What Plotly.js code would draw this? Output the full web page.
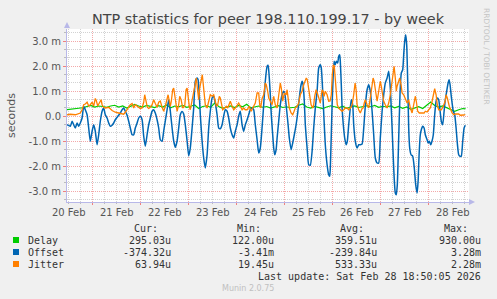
<!DOCTYPE html>
<html>
<head>
<meta charset="utf-8">
<script src="https://cdn.plot.ly/plotly-3.0.1.min.js"></script>
<style>
html,body{margin:0;padding:0;background:#f0f0f0;}
#chart{width:497px;height:299px;}
</style>
</head>
<body>
<div id="chart"></div>
<script>
// ---- DATA (times in hours since 2026-02-20 00:00, values in milliseconds) ----
const delayHours = [11,13,15,17,19,21,23,25,27,29,31,33,35,37,39,41,43,45,47,49,51,53,55,57,59,61,63,65,67,69,71,73,75,77,79,81,83,85,87,89,91,93,95,97,99,101,103,105,107,109,111,113,115,117,119,121,123,125,127,129,131,133,135,137,139,141,143,145,147,149,151,153,155,157,159,161,163,165,167,169,171,173,175,177,179,181,183,185,187,189,191,193,195,197,199,201,203,205,207,209,210.5];
const delayMs = [0.25,0.26,0.30,0.31,0.33,0.38,0.42,0.36,0.40,0.38,0.35,0.40,0.43,0.36,0.40,0.32,0.38,0.46,0.40,0.36,0.42,0.38,0.34,0.41,0.36,0.44,0.33,0.40,0.37,0.42,0.35,0.39,0.44,0.30,0.38,0.41,0.35,0.52,0.38,0.31,0.36,0.40,0.34,0.42,0.37,0.47,0.33,0.36,0.40,0.35,0.38,0.32,0.36,0.41,0.34,0.37,0.33,0.35,0.43,0.48,0.36,0.32,0.38,0.35,0.30,0.36,0.41,0.37,0.33,0.39,0.31,0.36,0.40,0.34,0.38,0.41,0.37,0.42,0.35,0.39,0.36,0.40,0.33,0.38,0.31,0.36,0.27,0.33,0.37,0.30,0.45,0.56,0.42,0.36,0.40,0.33,0.28,0.19,0.25,0.30,0.29];

const offsetHours = [11.2,12.8,13.7,14.5,15.3,16.2,17.0,17.8,18.7,19.5,20.3,21.2,22.0,22.8,23.7,24.5,25.3,26.2,27.0,27.8,28.7,29.5,30.3,31.2,32.0,32.8,33.7,34.5,35.3,36.2,37.0,37.8,38.7,39.5,40.3,41.2,42.0,42.8,43.7,44.5,45.3,46.2,47.0,47.8,48.7,49.5,50.3,51.2,52.0,52.8,53.7,54.5,55.3,56.2,57.0,57.8,58.7,59.5,60.3,61.2,62.0,62.8,63.7,64.5,65.3,66.2,67.0,67.8,68.7,69.5,70.3,71.2,72.0,72.8,73.7,74.5,75.3,76.2,76.7,77.3,77.8,78.7,79.5,80.3,81.2,82.0,82.8,83.7,84.5,85.3,86.2,87.0,87.8,88.7,89.5,90.3,91.2,92.0,92.8,93.7,94.5,95.3,96.2,97.0,97.8,98.7,99.5,100.3,101.2,102.0,102.8,103.7,104.5,105.3,106.2,107.0,107.8,108.7,109.5,110.3,111.2,111.7,112.3,112.8,113.3,114.0,114.5,115.0,115.7,116.2,117.0,117.8,118.7,119.5,120.0,120.7,121.7,122.3,123.2,124.0,124.8,125.7,126.5,127.3,128.2,128.7,129.2,129.8,130.3,131.2,132.0,132.8,133.7,134.5,135.3,136.2,137.0,137.8,138.3,139.0,139.7,140.3,141.2,142.0,142.5,142.8,143.3,143.7,144.2,144.7,145.3,145.8,146.5,147.0,147.5,147.8,148.3,148.7,149.3,150.0,150.7,151.3,152.0,152.8,153.3,154.0,154.5,155.3,156.2,157.0,157.8,158.7,159.5,160.3,161.2,162.0,162.8,163.7,164.5,165.3,166.2,167.0,167.8,168.7,169.5,170.3,171.2,172.0,172.8,173.7,174.5,175.3,175.8,176.3,177.0,177.7,178.3,179.0,179.5,180.0,180.5,181.0,181.5,182.0,182.5,183.2,184.0,184.8,185.5,186.2,186.7,187.2,187.8,188.3,189.0,189.7,190.3,191.2,191.7,192.3,193.0,193.7,194.3,195.0,195.7,196.3,197.0,197.7,198.3,199.0,199.7,200.3,201.0,201.7,202.2,202.7,203.2,203.7,204.3,205.0,205.7,206.3,207.0,207.7,208.3,209.0,209.7,210.3];
const offsetMs = [-0.35,-0.41,-0.21,-0.35,-0.48,-0.28,-0.41,-0.28,-0.08,0.39,0.25,0.05,-0.48,-1.01,-0.61,-0.35,-0.61,-1.15,-0.75,-0.21,0.19,0.32,0.05,-0.08,-0.28,-0.41,-0.37,-0.28,-0.15,-0.05,0.03,0.12,0.25,0.32,0.19,0.03,-0.21,-0.48,-0.75,-0.75,-0.48,-0.28,-0.08,-0.01,-0.15,-0.81,-1.21,-0.75,-0.35,-0.08,0.19,0.25,0.12,-0.15,-0.48,-0.95,-1.01,-0.6,-0.2,0.25,0.65,0.2,-0.48,-1.0,-1.25,-1.0,-0.48,0.05,0.18,0.08,-0.35,-1.0,-1.6,-1.28,-0.48,0.32,1.39,1.52,1.45,0.85,0.05,-1.0,-1.68,-2.08,-1.55,-0.48,0.19,0.72,0.79,0.52,0.05,-0.48,-0.51,-0.35,0.0,0.25,0.19,-0.08,-0.48,-0.75,-0.88,-0.61,-0.35,0.0,0.19,-0.35,-0.61,-0.35,-0.15,0.05,0.25,0.32,0.25,-0.35,-0.95,-1.48,-1.28,-0.45,0.45,1.39,1.99,2.03,1.52,0.85,0.05,-0.75,-1.28,-1.55,-1.35,-0.88,-0.21,0.45,0.85,0.99,0.92,0.45,-0.35,-0.88,-1.35,-1.08,-0.75,-0.35,0.12,0.72,1.25,1.39,1.25,0.59,-0.35,-1.28,-1.95,-1.97,-1.41,-0.48,0.32,0.99,1.92,2.05,1.92,0.99,-0.21,-1.15,-1.95,-2.35,-2.41,-2.08,-0.75,0.45,1.52,2.19,2.05,2.19,2.12,2.39,2.45,2.19,1.25,0.32,-0.35,-0.88,-1.15,-1.01,-0.35,0.32,0.65,0.45,-0.35,-1.01,-1.28,-1.15,-1.15,-1.12,-0.5,0.4,1.05,1.25,0.99,0.19,-0.75,-1.68,-1.88,-1.88,-0.88,0.19,0.85,1.32,1.52,1.79,1.12,-0.48,-2.08,-3.08,-3.15,-2.75,-0.88,0.99,1.72,1.85,2.45,2.99,3.25,2.85,1.39,-0.48,-1.28,-1.55,-1.61,-2.08,-2.75,-3.08,-2.61,-1.55,-0.75,-0.55,-0.41,-0.48,-0.75,-0.95,-1.08,-1.01,-1.15,-0.99,-0.75,0.05,0.59,0.72,0.65,0.19,-0.21,-0.35,0.19,0.65,0.99,1.32,1.45,1.25,0.85,0.52,0.19,0.05,-0.48,-1.08,-1.55,-1.61,-1.61,-1.01,-0.48,-0.37];

const jitterHours = [11.2,12.8,15.3,17.0,17.8,18.7,19.5,20.3,21.2,22.0,22.8,23.7,24.5,25.3,25.8,26.5,27.3,28.2,28.7,29.5,30.3,32.0,33.7,35.3,37.0,38.7,39.5,40.3,41.2,42.0,42.8,43.7,44.5,45.3,46.2,47.0,47.8,48.7,49.5,50.0,50.7,51.3,52.0,52.8,53.7,54.5,55.3,56.2,57.0,57.8,58.7,59.5,60.3,61.2,61.7,62.3,62.8,63.3,64.0,64.5,65.0,65.7,66.2,67.0,67.5,68.2,69.0,70.0,70.7,71.2,71.7,72.3,72.8,73.7,74.5,75.3,75.8,76.5,77.0,77.5,78.2,78.8,79.3,79.8,80.3,81.2,82.0,82.8,83.7,84.5,85.3,85.8,86.5,87.3,87.8,88.3,89.0,90.0,90.8,91.5,92.3,92.8,93.7,94.5,95.3,96.2,97.0,97.8,98.7,99.5,100.3,101.2,101.7,102.3,102.8,103.3,104.0,104.7,105.3,106.2,107.0,107.5,108.0,108.7,109.5,110.3,110.8,111.5,112.0,112.8,113.7,114.5,115.3,116.2,117.0,117.8,118.3,119.0,119.8,120.7,121.2,121.7,122.3,123.2,124.0,124.7,125.3,126.2,127.0,127.8,128.7,129.5,130.3,130.8,131.3,132.0,132.5,133.2,134.0,134.5,135.0,135.7,136.3,137.0,137.8,138.7,139.2,139.7,140.3,141.2,142.0,142.7,143.3,143.8,144.3,144.8,145.3,145.8,146.3,147.0,147.8,148.7,149.5,150.3,151.2,152.0,152.8,153.7,154.5,155.2,155.7,156.2,157.0,157.8,158.7,159.2,159.8,160.3,161.2,162.0,162.8,163.7,164.2,164.7,165.3,166.2,167.0,167.8,168.3,169.0,169.5,170.3,171.2,172.0,172.8,173.7,174.2,174.7,175.3,175.8,176.2,177.0,177.5,178.2,178.7,179.5,180.3,181.2,182.0,182.8,183.7,184.5,185.3,185.8,186.5,187.3,188.3,189.7,190.3,191.2,192.0,192.8,193.7,194.5,195.0,195.7,196.3,197.0,198.3,199.3,200.2,200.7,201.3,202.3,203.0,203.7,204.5,205.3,207.0,207.8,209.5,210.3];
const jitterMs = [0.05,0.07,0.05,0.08,0.12,0.25,0.45,0.48,0.55,0.4,0.45,0.55,0.4,0.7,0.62,0.4,0.55,0.65,0.45,0.35,0.32,0.35,0.22,0.15,0.12,0.08,0.07,0.15,0.25,0.38,0.45,0.5,0.32,0.45,0.4,0.35,0.3,0.32,0.55,0.85,0.6,0.35,0.3,0.35,0.45,0.65,0.5,0.35,0.55,0.6,0.35,0.19,0.39,0.72,0.85,0.59,0.39,0.59,1.05,1.12,0.85,0.32,0.19,0.45,0.79,0.65,0.32,0.39,1.05,1.12,0.72,0.39,0.25,0.65,0.99,1.45,1.52,0.99,0.65,1.12,1.52,1.65,1.25,0.85,0.45,0.32,0.65,0.85,0.79,0.85,0.59,0.39,0.45,0.79,0.72,0.45,0.25,0.32,0.39,0.32,0.52,0.59,0.39,0.25,0.32,0.45,0.52,0.39,0.25,0.32,0.25,0.25,0.32,0.39,0.25,0.19,0.32,0.45,0.52,0.92,0.92,0.45,0.32,0.7,0.85,1.32,1.25,0.99,0.72,0.59,0.45,0.79,0.45,0.32,0.92,1.32,1.12,0.59,0.92,0.85,1.05,0.79,0.32,0.12,0.05,0.19,0.32,0.39,0.52,0.85,0.99,1.25,1.39,1.52,1.45,1.05,0.85,0.45,0.32,0.45,0.79,1.05,0.92,0.72,0.52,1.05,0.99,0.79,0.99,0.85,0.59,0.6,0.85,1.65,2.05,1.99,1.39,1.12,0.45,0.32,0.25,0.19,0.25,0.32,0.32,0.25,0.32,0.45,0.85,1.32,1.05,0.45,0.25,0.12,0.3,0.32,0.52,0.65,0.45,0.32,0.72,1.25,1.52,1.39,0.99,0.59,0.99,1.39,1.19,0.85,0.59,0.45,0.32,0.52,0.85,1.39,1.79,1.99,1.52,0.99,1.19,1.39,1.52,1.25,0.92,0.85,0.72,0.52,0.65,0.32,0.12,0.39,0.79,0.59,0.19,0.12,0.12,0.12,0.19,0.16,0.25,0.32,0.59,0.92,1.09,0.85,0.45,0.25,0.25,0.39,0.59,0.85,0.72,0.39,0.25,0.12,0.05,0.08,0.08,0.03,0.04,0.06];

const seriesNames = ['Delay', 'Offset', 'Jitter'];
const seriesColors = ['#00cc00', '#0066b3', '#ff8000'];
const curVals = ['295.03u', '-374.32u', '63.94u'];
const minVals = ['122.00u', '-3.41m', '19.45u'];
const avgVals = ['359.51u', '-239.84u', '533.33u'];
const maxVals = ['930.00u', '3.28m', '2.28m'];
const statHeaders = ['Cur:', 'Min:', 'Avg:', 'Max:'];
const dayLabels = ['20 Feb','21 Feb','22 Feb','23 Feb','24 Feb','25 Feb','26 Feb','27 Feb','28 Feb'];
const yTickVals = [-3, -2, -1, 0, 1, 2, 3];
const yTickText = ['-3.0 m', '-2.0 m', '-1.0 m', '0.0', '1.0 m', '2.0 m', '3.0 m'];
const titleText = 'NTP statistics for peer 198.110.199.17 - by week';
const lastUpdate = 'Last update: Sat Feb 28 18:50:05 2026';

// ---- helpers ----
const T0 = Date.UTC(2026, 1, 20);
function h2s(h) {
  return new Date(T0 + h * 3600e3).toISOString().slice(0, 19).replace('T', ' ');
}
const W = 497, H = 299, ML = 67, MR = 28, MT = 29, MB = 97;
const PW = W - ML - MR, PH = H - MT - MB;
const px = x => (x - ML) / PW;
const py = y => (H - MB - y) / PH;

const xRange = [h2s(11.15), h2s(212.15)];
const midnights = [], noons = [];
for (let d = 0; d < dayLabels.length; d++) { midnights.push(h2s(24 * d)); noons.push(h2s(24 * d + 12)); }

const FONT = 'DejaVu Sans, sans-serif';
const MONO = 'DejaVu Sans Mono, monospace';

const traces = [
  {x: delayHours.map(h2s), y: delayMs, name: seriesNames[0], mode: 'lines', line: {color: seriesColors[0], width: 1.2}},
  {x: offsetHours.map(h2s), y: offsetMs, name: seriesNames[1], mode: 'lines', line: {color: seriesColors[1], width: 1.5, shape: 'spline', smoothing: 0.5}},
  {x: jitterHours.map(h2s), y: jitterMs, name: seriesNames[2], mode: 'lines', line: {color: seriesColors[2], width: 1.3}},
  {x: [xRange[0]], y: [null], xaxis: 'x2', mode: 'lines', showlegend: false, hoverinfo: 'skip'}
];

const annotations = [];
function txt(x, y, text, opts) {
  annotations.push(Object.assign({xref: 'paper', yref: 'paper', x: px(x), y: py(y), text: text,
    showarrow: false, xanchor: 'left', yanchor: 'middle',
    font: {family: MONO, size: 10, color: '#333'}}, opts || {}));
}
// y title
txt(11, 116, 'seconds', {xanchor: 'center', textangle: -90, font: {family: FONT, size: 11, color: '#555'}});
// side credit
txt(487, 57, 'RRDTOOL / TOBI OETIKER', {xanchor: 'center', textangle: 90, font: {family: FONT, size: 7.5, color: '#c4c4c4'}});
// legend table
const colRight = [173, 276, 379, 483];
statHeaders.forEach((h, i) => txt(colRight[i] - 13, 228, h, {xanchor: 'right'}));
const rowsY = [240, 252, 264];
const shapes = [];
seriesNames.forEach((n, i) => {
  txt(26, rowsY[i], n);
  [curVals, minVals, avgVals, maxVals].forEach((arr, j) => txt(colRight[j], rowsY[i], arr[i], {xanchor: 'right'}));
  shapes.push({type: 'rect', xref: 'paper', yref: 'paper', x0: px(13), x1: px(19), y0: py(rowsY[i] + 3), y1: py(rowsY[i] - 3),
    fillcolor: seriesColors[i], line: {width: 0}});
});
txt(483, 276, lastUpdate, {xanchor: 'right'});
txt(248, 288, 'Munin 2.0.75', {xanchor: 'center', font: {family: FONT, size: 8, color: '#c0c0c0'}});

// axis arrows
const axisCol = '#b8b8e8';
shapes.push({type: 'path', xref: 'paper', yref: 'paper',
  path: `M ${px(64)} ${py(28)} L ${px(70)} ${py(28)} L ${px(67)} ${py(22)} Z`, fillcolor: axisCol, line: {width: 0}});
shapes.push({type: 'path', xref: 'paper', yref: 'paper',
  path: `M ${px(469)} ${py(199)} L ${px(469)} ${py(205)} L ${px(475)} ${py(202)} Z`, fillcolor: axisCol, line: {width: 0}});

const layout = {
  width: W, height: H,
  margin: {l: ML, r: MR, t: MT, b: MB, pad: 0},
  paper_bgcolor: '#f0f0f0', plot_bgcolor: '#ffffff',
  showlegend: false,
  title: {text: titleText, x: 0.5, xref: 'paper', xanchor: 'center', y: 1 - 19 / H, yanchor: 'middle',
    font: {family: FONT, size: 14.4, color: '#444'}},
  xaxis: {
    type: 'date', range: xRange, tickmode: 'array', tickvals: midnights, showticklabels: false,
    showgrid: true, gridcolor: '#f3a9a9', griddash: '1px,1px', gridwidth: 1,
    ticks: 'outside', ticklen: 2, tickcolor: '#f08080',
    minor: {dtick: 6 * 3600e3, tick0: h2s(0), showgrid: true, gridcolor: '#d2d2d2', griddash: '1px,1px', ticks: 'outside', ticklen: 1, tickcolor: '#bbb'},
    showline: true, linecolor: axisCol, linewidth: 1, zeroline: false, fixedrange: true
  },
  xaxis2: {
    type: 'date', overlaying: 'x', anchor: 'y', side: 'bottom', range: xRange,
    tickmode: 'array', tickvals: noons, ticktext: dayLabels, showgrid: false, ticks: '', ticklabelstandoff: 3,
    showline: false, zeroline: false, tickfont: {family: FONT, size: 10, color: '#555'}, fixedrange: true
  },
  yaxis: {
    range: [-3.44, 3.48], tickmode: 'array', tickvals: yTickVals, ticktext: yTickText,
    showgrid: true, gridcolor: '#f3a9a9', griddash: '1px,1px', zeroline: false,
    minor: {dtick: 1 / 3, tick0: 0, showgrid: true, gridcolor: '#d2d2d2', griddash: '1px,1px', ticks: 'outside', ticklen: 2, tickcolor: '#bbb'},
    ticks: 'outside', ticklen: 3, tickcolor: '#f08080',
    showline: true, linecolor: axisCol, linewidth: 1,
    tickfont: {family: FONT, size: 10, color: '#555'}, fixedrange: true
  },
  annotations: annotations,
  shapes: shapes
};

Plotly.newPlot('chart', traces, layout, {staticPlot: true, displayModeBar: false});
</script>
</body>
</html>
